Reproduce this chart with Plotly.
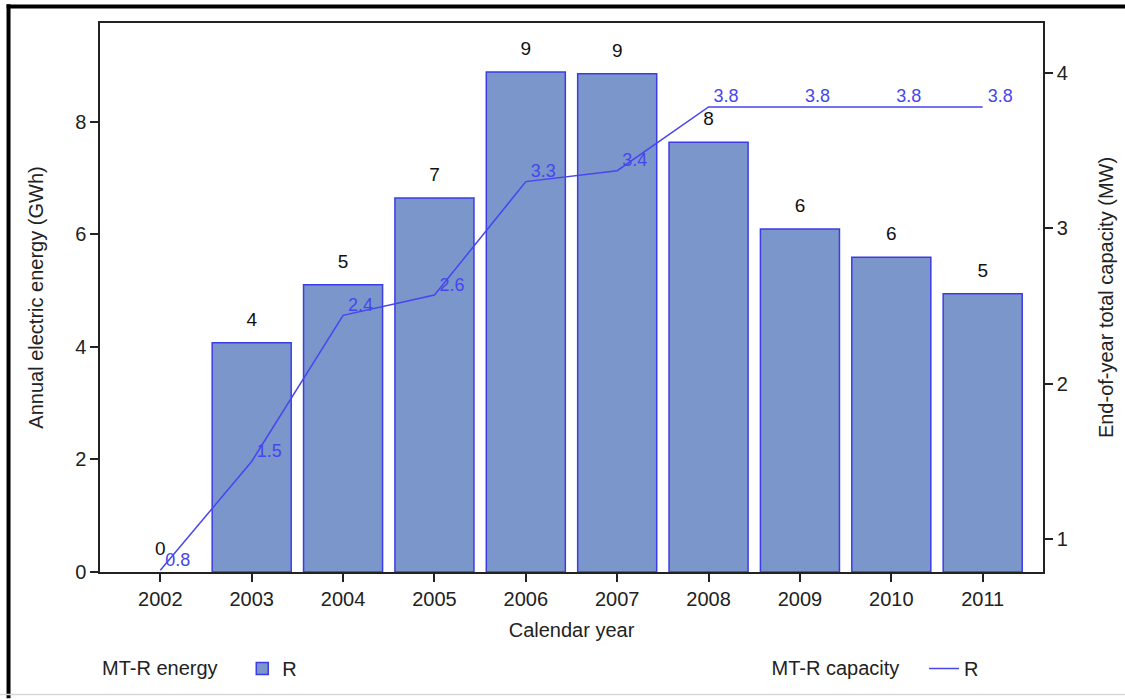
import plotly.graph_objects as go

# data
years = ["2002", "2003", "2004", "2005", "2006", "2007", "2008", "2009", "2010", "2011"]
energy_gwh = [0.0, 4.07, 5.1, 6.64, 8.88, 8.85, 7.63, 6.09, 5.59, 4.94]
energy_labels = ["0", "4", "5", "7", "9", "9", "8", "6", "6", "5"]
capacity_mw = [0.8, 1.5, 2.44, 2.57, 3.3, 3.37, 3.78, 3.78, 3.78, 3.78]
capacity_labels = ["0.8", "1.5", "2.4", "2.6", "3.3", "3.4", "3.8", "3.8", "3.8", "3.8"]

FONT = "Liberation Sans, Arial, sans-serif"
BAR_FILL = "#7b96cb"
BAR_EDGE = "#3c3ce6"
LINE_COL = "#4646ee"
NB = "\u00a0"

fig = go.Figure()

# energy bars (left axis); no outline on empty bars
fig.add_trace(go.Bar(
    x=years, y=energy_gwh,
    showlegend=False,
    width=0.865,
    marker=dict(color=BAR_FILL,
                line=dict(color=BAR_EDGE, width=[1.5 if v > 0 else 0 for v in energy_gwh])),
))
# legend entry for the bars
fig.add_trace(go.Bar(
    x=[None], y=[None], name="R", legend="legend",
    marker=dict(color=BAR_FILL, line=dict(color=BAR_EDGE, width=1.5)),
))

# value labels above bars
fig.add_trace(go.Scatter(
    x=years, y=energy_gwh,
    mode="markers+text", showlegend=False,
    marker=dict(size=18, opacity=0),
    text=energy_labels, textposition="top center",
    textfont=dict(color="#111", size=19),
    cliponaxis=False,
))

# capacity line (right axis)
fig.add_trace(go.Scatter(
    x=years, y=capacity_mw, yaxis="y2",
    name="R", legend="legend2",
    mode="lines+text",
    line=dict(color=LINE_COL, width=1.5),
    text=[NB + t for t in capacity_labels], textposition="top right",
    textfont=dict(color=LINE_COL, size=18),
    cliponaxis=False,
))

axis_common = dict(
    showline=True, linecolor="#222", linewidth=1.5,
    ticks="outside", ticklen=8, tickcolor="#222", tickwidth=1.5,
    showgrid=False, zeroline=False, automargin=False,
    tickfont=dict(size=20, color="#222"),
)

fig.update_layout(
    width=1125, height=700,
    margin=dict(l=100, r=82, t=23, b=125),
    paper_bgcolor="white", plot_bgcolor="white",
    font=dict(family=FONT, size=20, color="#222"),
    showlegend=True,
    xaxis=dict(
        **axis_common, mirror=True, type="category",
        range=[-0.66, 9.66],
        title=dict(text="Calendar year", standoff=14, font=dict(size=20)),
    ),
    yaxis=dict(
        **axis_common, range=[0, 9.75], dtick=2,
        title=dict(text="Annual electric energy (GWh)", standoff=26, font=dict(size=20)),
    ),
    yaxis2=dict(
        **axis_common, overlaying="y", side="right",
        range=[0.789, 4.32], dtick=1,
        title=dict(text="End-of-year total capacity (MW)", standoff=32, font=dict(size=20)),
    ),
    legend=dict(
        title=dict(text="MT-R energy   ", side="left", font=dict(size=20)),
        orientation="h", x=0.0, y=-0.176, xanchor="left", yanchor="middle",
        font=dict(size=20), bgcolor="rgba(0,0,0,0)",
    ),
    legend2=dict(
        title=dict(text="MT-R capacity   ", side="left", font=dict(size=20)),
        orientation="h", x=0.71, y=-0.176, xanchor="left", yanchor="middle",
        font=dict(size=20), bgcolor="rgba(0,0,0,0)",
    ),
    shapes=[
        # black frame on top and left of the image
        dict(type="line", xref="paper", yref="paper", x0=-0.099, x1=1.09, y0=1.030, y1=1.030,
             line=dict(color="black", width=4)),
        dict(type="line", xref="paper", yref="paper", x0=-0.097, x1=-0.097, y0=1.034, y1=-0.23,
             line=dict(color="black", width=4)),
        dict(type="line", xref="paper", yref="paper", x0=-0.11, x1=1.09, y0=-0.223, y1=-0.223,
             line=dict(color="#d8d8d8", width=1.5)),
    ],
)

fig.write_html("out.html", config={"displayModeBar": False},
               post_script="document.body.style.margin='0';")
